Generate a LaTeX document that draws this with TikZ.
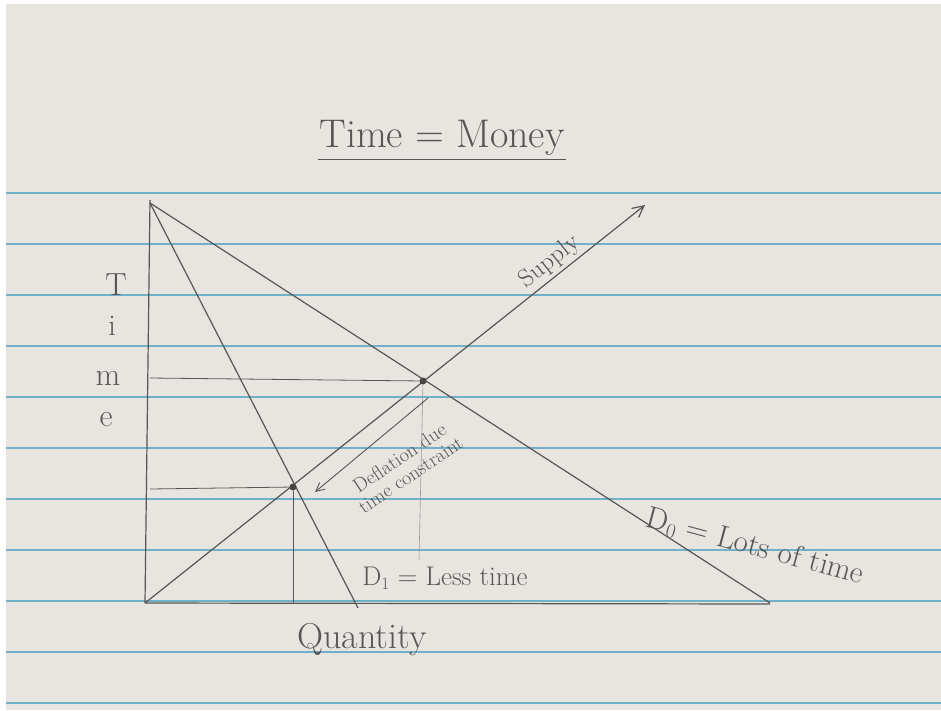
\documentclass[tikz,border=0pt]{standalone}
\usepackage{xcolor}
\usepackage{tikz}
\usetikzlibrary{arrows.meta,positioning,calc}
\definecolor{paper}{RGB}{232,229,225}
\definecolor{rule}{RGB}{112,176,200}
\definecolor{pencil}{RGB}{88,86,84}
\newcommand{\hand}[1]{\fontsize{#1}{#1}\selectfont}

\begin{document}
\begin{tikzpicture}[
  x=1pt, y=-1pt,
  font=\hand{28},
  curve/.style={draw=pencil, line width=1.2pt},
  guide/.style={draw=pencil, line width=0.8pt},
  faint/.style={draw=pencil!60, line width=0.6pt},
  label/.style={text=pencil, inner sep=1pt},
  eqpoint/.style={circle, fill=pencil!80!black, inner sep=0pt, minimum size=7pt},
  arrow/.style={-{Straight Barb[length=3mm, width=3mm]}, line width=0.9pt, draw=pencil}
]
  % paper and rules
  \fill[white] (0,0) rectangle (941,710);
  \fill[paper] (6,4) rectangle (941,710);
  \useasboundingbox (0,0) rectangle (941,710);
  \foreach \ry in {193,244,295,346,397,448,499,550,601,652,703}
    \draw[rule, line width=1.4pt] (6,\ry) -- (941,\ry);

  % axes
  \coordinate (O) at (145,603);
  \coordinate (ytop) at (150,200);
  \coordinate (xend) at (770,604);
  \draw[curve] (O) -- (ytop);
  \draw[curve] (O) -- (xend);

  % curves
  \coordinate (dtop) at (150,203);
  \coordinate (d1end) at (358,608);
  \coordinate (d0end) at (770,603);
  \coordinate (stip) at (645,205);
  \draw[curve] (dtop) -- (d1end);
  \draw[curve] (dtop) -- (d0end);
  \draw[curve, -{Straight Barb[length=4mm, width=4mm]}] (O) -- (stip);

  % equilibria
  \node[eqpoint] (E0) at (423,381) {};
  \node[eqpoint] (E1) at (293,487) {};
  \coordinate (p0) at (150,378);
  \coordinate (p1) at (150,489);
  \coordinate (q0) at (419,560);
  \coordinate (q1) at (293,603);
  \draw[guide] (p0) -- (E0);
  \draw[guide] (p1) -- (E1);
  \draw[guide] (E1) -- (q1);
  \draw[faint] (E0) -- (q0);

  % deflation shift
  \coordinate (shiftfrom) at (428,398);
  \coordinate (shiftto) at (315,492);
  \draw[arrow] (shiftfrom) -- (shiftto);
  \node[label, rotate=34, align=center, font=\hand{20}] (shift) at (405,466) {Deflation due\\time constraint};

  % labels
  \node[label, font=\hand{40}] (title) at (442,138) {Time = Money};
  \draw[guide] ($(title.south west)+(0,2)$) -- ($(title.south east)+(0,2)$);
  \node[label, rotate=38.5, font=\hand{25}] (supply) at (550,262) {Supply};
  \node[label, font=\hand{27}] (d1) at (445,578) {D$_1$ = Less time};
  \node[label, rotate=-15, font=\hand{31}] (d0) at (755,547) {D$_0$ = Lots of time};
  \node[label, font=\hand{36}] (qty) at (362,640) {Quantity};
  \node[label, font=\hand{32}] (yT) at (116,285) {T};
  \node[label, font=\hand{30}] (yi) at (112,326) {i};
  \node[label, font=\hand{32}] (ym) at (108,378) {m};
  \node[label, font=\hand{32}] (ye) at (106,420) {e};
\end{tikzpicture}
\end{document}
